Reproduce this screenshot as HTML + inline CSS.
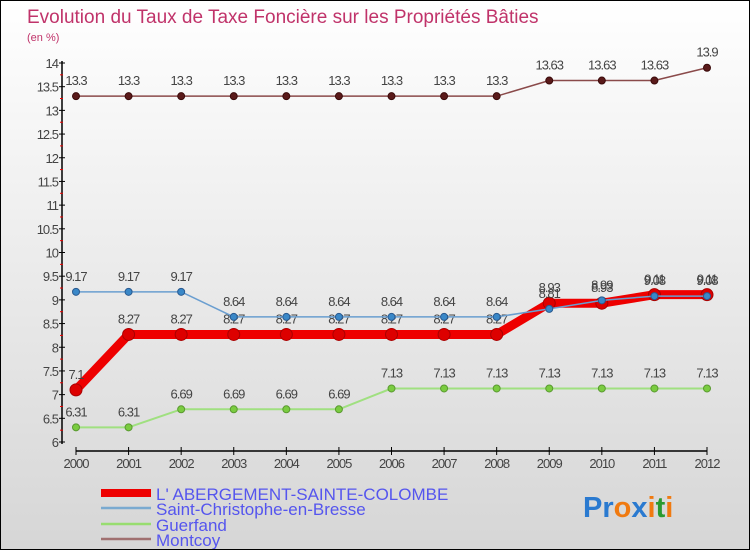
<!DOCTYPE html>
<html><head><meta charset="utf-8"><style>
body{margin:0}
#c{width:748px;height:548px;border:1px solid #000;position:relative;background:linear-gradient(#fff,#d6d6d6);font-family:"Liberation Sans",sans-serif;overflow:hidden}
svg text{font-family:"Liberation Sans",sans-serif}
</style></head><body>
<div id="c">
<svg width="748" height="548" id="s">
<text x="26" y="22" font-size="19" fill="#c0336a">Evolution du Taux de Taxe Foncière sur les Propriétés Bâties</text>
<text x="26" y="40" font-size="11" fill="#c0336a">(en %)</text>
<g id="g"></g>
<g>
<line x1="100" y1="492" x2="150" y2="492" stroke="#e00" stroke-width="8"/>
<text x="155" y="499" font-size="17" fill="#5555ee">L' ABERGEMENT-SAINTE-COLOMBE</text>
<line x1="100" y1="507" x2="150" y2="507" stroke="#7aaad0" stroke-width="2.5"/>
<text x="155" y="514" font-size="17" fill="#5555ee">Saint-Christophe-en-Bresse</text>
<line x1="100" y1="523" x2="150" y2="523" stroke="#98dd70" stroke-width="2.5"/>
<text x="155" y="530" font-size="17" fill="#5555ee">Guerfand</text>
<line x1="100" y1="538" x2="150" y2="538" stroke="#a07070" stroke-width="2.5"/>
<text x="155" y="545" font-size="17" fill="#5555ee">Montcoy</text>
</g>
<text x="582" y="516" font-size="29" font-weight="bold"><tspan fill="#2a7ad0">Pr</tspan><tspan fill="#f07a10">o</tspan><tspan fill="#2a7ad0">x</tspan><tspan fill="#f07a10">i</tspan><tspan fill="#2a9a30">t</tspan><tspan fill="#f07a10">i</tspan></text>
</svg></div>
<script>
const years=[2000,2001,2002,2003,2004,2005,2006,2007,2008,2009,2010,2011,2012];
const abergement=[7.1,8.27,8.27,8.27,8.27,8.27,8.27,8.27,8.27,8.93,8.93,9.11,9.11];
const saintChristophe=[9.17,9.17,9.17,8.64,8.64,8.64,8.64,8.64,8.64,8.81,8.99,9.08,9.08];
const guerfand=[6.31,6.31,6.69,6.69,6.69,6.69,7.13,7.13,7.13,7.13,7.13,7.13,7.13];
const montcoy=[13.3,13.3,13.3,13.3,13.3,13.3,13.3,13.3,13.3,13.63,13.63,13.63,13.9];
const yTicks=[6,6.5,7,7.5,8,8.5,9,9.5,10,10.5,11,11.5,12,12.5,13,13.5,14];
const NS="http://www.w3.org/2000/svg";
const g=document.getElementById('g');
const X=i=>75+i*(706-75)/(years.length-1);
const Y=v=>441-(v-6)*(441-62)/8;
function mk(t,a,p){const e=document.createElementNS(NS,t);for(const k in a)e.setAttribute(k,a[k]);(p||g).appendChild(e);return e;}
let ax=mk('line',{x1:61,y1:60,x2:61,y2:443,stroke:'#000','stroke-width':1.5});


yTicks.forEach((v,i)=>{mk('line',{x1:58,y1:Y(v),x2:64,y2:Y(v),stroke:'#000'});
 if(i<yTicks.length-1)mk('line',{x1:59,y1:Y(v+0.25),x2:62,y2:Y(v+0.25),stroke:'#e00'});
 const t=mk('text',{x:57,y:Y(v)+5,'font-size':13,fill:'#444','text-anchor':'end','letter-spacing':'-1'});t.textContent=v;
 
 });
let xa=mk('line',{x1:75,y1:450,x2:706,y2:450,stroke:'#000','stroke-width':1.5});


years.forEach((y,i)=>{mk('line',{x1:X(i),y1:446,x2:X(i),y2:454,stroke:'#000'});
 const t=mk('text',{x:X(i),y:467,'font-size':13,fill:'#444','text-anchor':'middle','letter-spacing':'-1'});t.textContent=y;
 
 });
function series(vals,name,color,w,r,dot,dotStroke){
 const sg=mk('g',{});
 
 
 mk('polyline',{points:vals.map((v,i)=>X(i)+','+Y(v)).join(' '),fill:'none',stroke:color,'stroke-width':w,'stroke-linejoin':'round'},sg);
 vals.forEach((v,i)=>{const c=mk('circle',{cx:X(i),cy:Y(v),r:r,fill:dot,stroke:dotStroke,'stroke-width':1},sg);
  
  
  const t=mk('text',{x:X(i),y:Y(v)-11,'font-size':13,fill:'#444','text-anchor':'middle','letter-spacing':'-1'},sg);t.textContent=v;
  
  });
}
series(montcoy,'montcoy','#8a4a4a',1.5,3.5,'#5a1a1a','#3a0a0a');
series(guerfand,'guerfand','#a0e080',2,3.5,'#7acc40','#5a9a30');
series(abergement,'abergement','#ee0000',9,6,'#dd0000','#a00');
series(saintChristophe,'saint-christophe','#6a9ed0',1.5,3.5,'#3a88c8','#2a5a90');
</script>
</body></html>
